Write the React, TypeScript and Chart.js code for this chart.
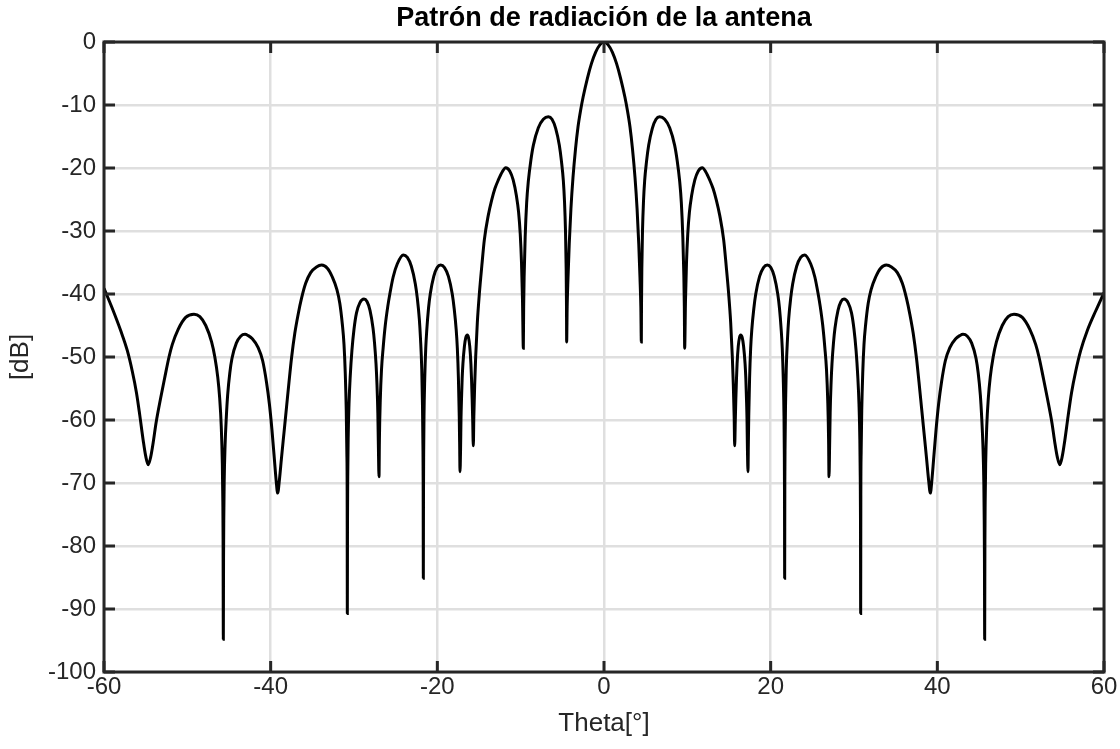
import { useEffect, useRef } from 'react';
import { Chart, registerables } from 'chart.js';

Chart.register(...registerables);

// [theta (deg), level (dB)] — left half (-60 .. 0)
const patternLeft: [number, number][] = [
  [-60, -39.1], [-59, -42.3], [-58, -45.8], [-57.2, -49.0], [-56.6, -52.3], [-56.1, -55.7], [-55.7, -59.3],
  [-55.3, -63.2], [-55.0, -65.7], [-54.7, -67.1], [-54.4, -65.9], [-54.1, -63.6], [-53.76, -60.5], [-53.2, -56.5],
  [-52.7, -53.2], [-52.2, -50.0], [-51.8, -48.0], [-51.1, -45.6], [-50.2, -43.7], [-49.2, -43.2], [-48.5, -43.6],
  [-47.79, -45.0], [-47.09, -47.6], [-46.7, -50.0], [-46.35, -53.2], [-46.12, -56.5], [-45.93, -61], [-45.8, -67],
  [-45.74, -73], [-45.71, -79], [-45.68, -94.8],
  [-45.654, -82], [-45.628, -76], [-45.58, -70], [-45.47, -64], [-45.32, -59.5], [-45.16, -56], [-44.9, -52.5],
  [-44.64, -50.2], [-44.12, -47.8], [-43.6, -46.7], [-43.08, -46.4], [-42.7, -46.6], [-42.2, -47.1], [-41.5, -48.5],
  [-40.96, -50.6], [-40.5, -54.0], [-40.15, -57.5], [-39.85, -61.5], [-39.55, -66.3], [-39.35, -69.5], [-39.16, -71.6],
  [-38.95, -69.5], [-38.7, -66.0], [-38.4, -62.0], [-38.1, -58.0], [-37.8, -54.0], [-37.5, -50.2], [-37.1, -46.2],
  [-36.7, -43.2], [-36.3, -40.7], [-35.8, -38.3], [-35.2, -36.6], [-34.5, -35.7], [-33.88, -35.4], [-33.2, -35.9],
  [-32.6, -37.3], [-32.05, -39.3], [-31.7, -41.5], [-31.4, -44.8], [-31.2, -48.0], [-31.05, -52.5], [-30.93, -58.5],
  [-30.86, -65], [-30.82, -72], [-30.8, -90.7],
  [-30.78, -76], [-30.75, -69], [-30.7, -63], [-30.6, -57.5], [-30.45, -53], [-30.25, -49], [-30.0, -45.6],
  [-29.7, -43], [-29.3, -41.4], [-28.8, -40.8], [-28.44, -41.2], [-28.08, -42.6], [-27.72, -45.4], [-27.54, -47.7],
  [-27.36, -51.0], [-27.25, -54.1], [-27.14, -58.9], [-27.07, -64.5], [-27.0, -69],
  [-26.95, -63], [-26.85, -57], [-26.7, -52], [-26.5, -48.5], [-26.25, -45], [-25.95, -42], [-25.7, -40],
  [-25.3, -37.3], [-24.8, -35.2], [-24.08, -33.8], [-23.6, -34.2], [-23.12, -35.6], [-22.64, -38.4], [-22.4, -40.7],
  [-22.16, -44.0], [-22.02, -47.1], [-21.87, -51.9], [-21.78, -57.9], [-21.73, -63.9], [-21.7, -69.9], [-21.68, -85.1],
  [-21.66, -71.5], [-21.64, -65.5], [-21.6, -59.4], [-21.51, -53.4], [-21.39, -48.6], [-21.26, -45.6], [-21.06, -42.3],
  [-20.85, -40.0], [-20.43, -37.2], [-20.02, -35.8], [-19.6, -35.4], [-19.14, -35.8], [-18.67, -37.2], [-18.21, -40.0],
  [-17.98, -42.3], [-17.74, -45.6], [-17.6, -48.6], [-17.47, -53.4], [-17.37, -59.4], [-17.32, -64], [-17.28, -68.2],
  [-17.21, -64.5], [-17.16, -59.8], [-17.1, -56.7], [-17.02, -53.4], [-16.93, -51.1], [-16.75, -48.3], [-16.58, -46.9],
  [-16.4, -46.5], [-16.26, -46.9], [-16.11, -48.3], [-15.97, -51.1], [-15.9, -53.4], [-15.82, -56.7], [-15.76, -59.8],
  [-15.68, -64.1],
  [-15.62, -59.5], [-15.52, -54.5], [-15.4, -50], [-15.2, -44.5], [-14.96, -40], [-14.66, -35.5], [-14.36, -31.4],
  [-13.9, -27.6], [-13.48, -25.1], [-13.1, -23.3], [-12.68, -21.9], [-12.2, -20.6], [-11.8, -19.95], [-11.3, -20.5],
  [-10.9, -21.9], [-10.5, -24.5], [-10.25, -27], [-10.05, -30.5], [-9.9, -35], [-9.78, -41], [-9.68, -48.6],
  [-9.64, -42], [-9.58, -37], [-9.46, -31], [-9.28, -25.5], [-9.08, -22.1], [-8.78, -18.8], [-8.48, -16.4],
  [-7.88, -13.6], [-7.28, -12.25], [-6.68, -11.85], [-6.24, -12.25], [-5.8, -13.7], [-5.36, -16.4], [-5.1, -19],
  [-4.88, -22], [-4.74, -25.3], [-4.62, -30], [-4.54, -36], [-4.5, -42], [-4.48, -47.6],
  [-4.42, -42], [-4.32, -37.5], [-4.17, -32], [-3.97, -26.5], [-3.72, -21.5], [-3.42, -17], [-3.12, -13.5],
  [-2.8, -10.8], [-2.5, -8.7], [-2.0, -5.8], [-1.5, -3.4], [-1.0, -1.6], [-0.5, -0.45], [0, 0],
];

// Right half (0 .. 60)
const patternRight: [number, number][] = [
  [0.5, -0.45], [1.0, -1.6], [1.5, -3.4], [2.0, -5.8], [2.5, -8.7], [2.8, -10.8], [3.12, -13.5], [3.42, -17],
  [3.72, -21.5], [3.97, -26.5], [4.17, -32], [4.32, -37.5], [4.42, -42], [4.48, -47.6],
  [4.5, -42], [4.54, -36], [4.62, -30], [4.74, -25.3], [4.88, -22], [5.1, -19], [5.36, -16.4], [5.8, -13.7],
  [6.24, -12.25], [6.68, -11.85], [7.28, -12.25], [7.88, -13.6], [8.48, -16.4], [8.78, -18.8], [9.08, -22.1],
  [9.28, -25.5], [9.46, -31], [9.58, -37], [9.64, -42], [9.68, -48.6],
  [9.78, -41], [9.9, -35], [10.05, -30.5], [10.25, -27], [10.5, -24.5], [10.9, -21.9], [11.3, -20.5], [11.8, -19.95],
  [12.2, -20.6], [12.68, -21.9], [13.1, -23.3], [13.48, -25.1], [13.9, -27.6], [14.36, -31.4], [14.66, -35.5],
  [14.96, -40], [15.2, -44.5], [15.4, -50], [15.52, -54.5], [15.62, -59.5], [15.68, -64.1],
  [15.76, -59.8], [15.82, -56.7], [15.9, -53.4], [15.97, -51.1], [16.11, -48.3], [16.26, -46.9], [16.4, -46.5],
  [16.58, -46.9], [16.75, -48.3], [16.93, -51.1], [17.02, -53.4], [17.1, -56.7], [17.16, -59.8], [17.21, -64.5],
  [17.28, -68.2],
  [17.32, -64], [17.37, -59.4], [17.47, -53.4], [17.6, -48.6], [17.74, -45.6], [17.98, -42.3], [18.21, -40.0],
  [18.67, -37.2], [19.14, -35.8], [19.6, -35.4], [20.02, -35.8], [20.43, -37.2], [20.85, -40.0], [21.06, -42.3],
  [21.26, -45.6], [21.39, -48.6], [21.51, -53.4], [21.6, -59.4], [21.64, -65.5], [21.66, -71.5], [21.68, -85.1],
  [21.7, -69.9], [21.73, -63.9], [21.78, -57.9], [21.87, -51.9], [22.02, -47.1], [22.16, -44.0], [22.4, -40.7],
  [22.64, -38.4], [23.12, -35.6], [23.6, -34.2], [24.08, -33.8], [24.8, -35.2], [25.3, -37.3], [25.7, -40],
  [25.95, -42], [26.25, -45], [26.5, -48.5], [26.7, -52], [26.85, -57], [26.95, -63], [27.0, -69],
  [27.07, -64.5], [27.14, -58.9], [27.25, -54.1], [27.36, -51.0], [27.54, -47.7], [27.72, -45.4], [28.08, -42.6],
  [28.44, -41.2], [28.8, -40.8], [29.3, -41.4], [29.7, -43], [30.0, -45.6], [30.25, -49], [30.45, -53],
  [30.6, -57.5], [30.7, -63], [30.75, -69], [30.78, -76], [30.8, -90.7],
  [30.82, -72], [30.86, -65], [30.93, -58.5], [31.05, -52.5], [31.2, -48.0], [31.4, -44.8], [31.7, -41.5],
  [32.05, -39.3], [32.6, -37.3], [33.2, -35.9], [33.88, -35.4], [34.5, -35.7], [35.2, -36.6], [35.8, -38.3],
  [36.3, -40.7], [36.7, -43.2], [37.1, -46.2], [37.5, -50.2], [37.8, -54.0], [38.1, -58.0], [38.4, -62.0],
  [38.7, -66.0], [38.95, -69.5], [39.16, -71.6], [39.35, -69.5], [39.55, -66.3], [39.85, -61.5], [40.15, -57.5],
  [40.5, -54.0], [40.96, -50.6], [41.5, -48.5], [42.2, -47.1], [42.7, -46.6], [43.08, -46.4], [43.6, -46.7],
  [44.12, -47.8], [44.64, -50.2], [44.9, -52.5], [45.16, -56], [45.32, -59.5], [45.47, -64], [45.58, -70],
  [45.628, -76], [45.654, -82], [45.68, -94.8],
  [45.71, -79], [45.74, -73], [45.8, -67], [45.93, -61], [46.12, -56.5], [46.35, -53.2], [46.7, -50.0],
  [47.09, -47.6], [47.79, -45.0], [48.5, -43.6], [49.2, -43.2], [50.2, -43.7], [51.1, -45.6], [51.8, -48.0],
  [52.2, -50.0], [52.7, -53.2], [53.2, -56.5], [53.76, -60.5], [54.1, -63.6], [54.4, -65.9], [54.7, -67.1],
  [55.0, -65.7], [55.3, -63.2], [55.7, -59.3], [56.1, -55.7], [56.6, -52.3], [57.2, -49.0], [58, -45.8],
  [59, -42.7], [60, -39.8],
];

const xTickStep = 20;
const yTickStep = 10;
const titleText = 'Patrón de radiación de la antena';
const xLabel = 'Theta[°]';
const yLabel = '[dB]';

const FONT = '"Liberation Sans", Arial, Helvetica, sans-serif';
const AXIS_COLOR = '#262626';
const GRID_COLOR = '#dfdfdf';

const frameTicks = {
  id: 'frameTicks',
  afterDatasetsDraw(chart: any) {
    const { ctx, chartArea } = chart;
    const { left, right, top, bottom } = chartArea;
    const xs = chart.scales.x;
    const ys = chart.scales.y;
    const L = 11;
    ctx.save();
    ctx.strokeStyle = AXIS_COLOR;
    ctx.lineWidth = 3;
    ctx.beginPath();
    xs.ticks.forEach((t: any) => {
      const px = xs.getPixelForValue(t.value);
      ctx.moveTo(px, bottom);
      ctx.lineTo(px, bottom - L);
      ctx.moveTo(px, top);
      ctx.lineTo(px, top + L);
    });
    ys.ticks.forEach((t: any) => {
      const py = ys.getPixelForValue(t.value);
      ctx.moveTo(left, py);
      ctx.lineTo(left + L, py);
      ctx.moveTo(right, py);
      ctx.lineTo(right - L, py);
    });
    ctx.stroke();
    ctx.lineJoin = 'miter';
    ctx.strokeRect(left, top, right - left, bottom - top);
    ctx.restore();
  },
};

export default function App() {
  const canvasRef = useRef<HTMLCanvasElement | null>(null);

  useEffect(() => {
    if (!canvasRef.current) return;
    const points = [...patternLeft, ...patternRight].map(([t, db]) => ({ x: t, y: db }));

    const chart = new Chart(canvasRef.current, {
      type: 'line',
      data: {
        datasets: [
          {
            data: points,
            borderColor: '#000000',
            borderWidth: 3,
            pointRadius: 0,
            cubicInterpolationMode: 'monotone',
            fill: false,
          },
        ],
      },
      options: {
        animation: false,
        responsive: true,
        maintainAspectRatio: false,
        layout: { padding: { left: 0, right: 16, top: 0, bottom: 0 } },
        plugins: {
          legend: { display: false },
          tooltip: { enabled: false },
          title: {
            display: true,
            text: titleText,
            color: '#000000',
            fullSize: false,
            font: { family: FONT, size: 27, weight: 'bold', lineHeight: 1.2 },
            padding: { top: 2, bottom: 7.6 },
          },
        },
        scales: {
          x: {
            type: 'linear',
            min: -60,
            max: 60,
            ticks: {
              stepSize: xTickStep,
              color: AXIS_COLOR,
              font: { family: FONT, size: 24 },
              padding: 1,
              maxRotation: 0,
            },
            grid: { color: GRID_COLOR, lineWidth: 2.5, drawTicks: false },
            border: { display: false },
            title: {
              display: true,
              text: xLabel,
              color: AXIS_COLOR,
              font: { family: FONT, size: 26 },
              padding: { top: 0, bottom: 10 },
            },
            afterFit(scale: any) {
              scale.height = 77;
            },
          },
          y: {
            type: 'linear',
            min: -100,
            max: 0,
            ticks: {
              stepSize: yTickStep,
              color: AXIS_COLOR,
              font: { family: FONT, size: 24 },
              padding: 8,
            },
            grid: { color: GRID_COLOR, lineWidth: 2.5, drawTicks: false },
            border: { display: false },
            title: {
              display: true,
              text: yLabel,
              color: AXIS_COLOR,
              font: { family: FONT, size: 26 },
              padding: { top: 5, bottom: 0 },
            },
            afterFit(scale: any) {
              scale.width = 104;
            },
          },
        },
      },
      plugins: [frameTicks],
    } as any);

    return () => chart.destroy();
  }, []);

  return (
    <div style={{ position: 'absolute', left: 0, top: 0, width: 1120, height: 749 }}>
      <canvas ref={canvasRef} />
    </div>
  );
}
